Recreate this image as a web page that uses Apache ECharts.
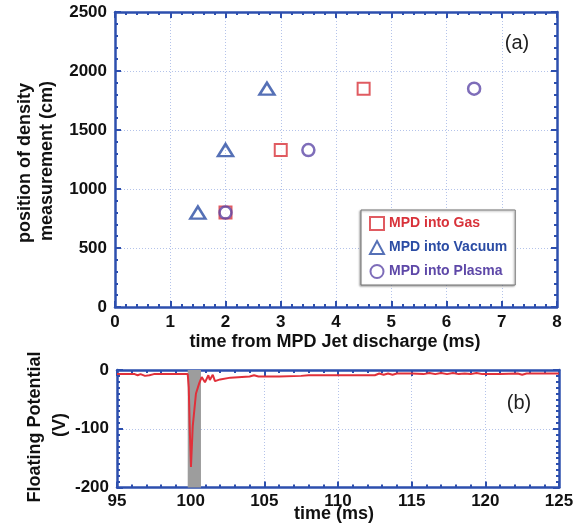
<!DOCTYPE html>
<html><head><meta charset="utf-8">
<script src="https://cdn.jsdelivr.net/npm/echarts@6/dist/echarts.min.js"></script>
<style>html,body{margin:0;padding:0;background:#fff}#c{width:582px;height:524px}</style>
</head><body><div id="c"></div>
<script>
// ---- data (panel a) ----
const gasTime = [2, 3, 4.5];
const gasPos = [800, 1330, 1850];
const vacTime = [1.5, 2, 2.75];
const vacPos = [800, 1330, 1850];
const plasmaTime = [2, 3.5, 6.5];
const plasmaPos = [800, 1330, 1850];
const seriesNames = ['MPD into Gas', 'MPD into Vacuum', 'MPD into Plasma'];
// ---- data (panel b) ----
const traceTime = [95, 96.2, 96.4, 96.6, 96.9, 97.2, 97.5, 99.8, 99.87, 99.95, 100.02, 100.14, 100.36, 100.59, 100.75, 100.97, 101.2, 101.3, 101.5, 101.65, 102.0, 102.7, 104, 104.3, 104.6, 106, 107.5, 108, 110, 112.5, 112.8, 113.1, 113.4, 113.7, 114, 115, 115.8, 116.2, 116.6, 117, 117.4, 117.8, 118.2, 118.6, 119, 119.4, 119.8, 121, 122.2, 122.5, 122.8, 125];
const tracePot = [-7, -7, -9, -7, -10, -9, -7, -7, -30, -110, -165, -96, -40, -22, -12, -21, -9, -17, -8, -19, -16, -13, -11, -9, -11, -11, -10, -9, -9, -9, -6, -8, -6, -8, -6, -6, -7, -5, -7, -5, -7, -5, -7, -6, -7, -5, -7, -7, -6, -8, -6, -6];
const bandRange = [99.8, 100.7];

const C_RED = '#d8323a', C_BLUE = '#2b4ca4', C_PURPLE = '#5e48a8';
const AX = '#2d4fae', GRIDC = '#b4c3ea';
const FONT = '"Liberation Sans", Arial, sans-serif';

function zip(a, b) { return a.map((v, i) => [v, b[i]]); }
const plain = v => String(v);

function mainAxis(o) {
  return Object.assign({
    type: 'value',
    axisLine: { show: true, onZero: false, lineStyle: { color: AX, width: 2.5 } },
    axisTick: { show: true, inside: true, length: 6, lineStyle: { color: AX, width: 2 } },
    minorTick: { show: true, splitNumber: 5, length: 3, lineStyle: { color: AX, width: 2 } },
    splitLine: { show: true, lineStyle: { color: GRIDC, type: [1, 2], width: 1 } }
  }, o);
}
function sideAxis(o) {
  return Object.assign({
    type: 'value',
    axisLine: { show: true, onZero: false, lineStyle: { color: AX, width: 2.5 } },
    axisTick: { show: true, inside: true, length: 6, lineStyle: { color: AX, width: 2 } },
    minorTick: { show: true, splitNumber: 5, length: 3, lineStyle: { color: AX, width: 2 } },
    axisLabel: { show: false },
    splitLine: { show: false }
  }, o);
}
function lbl(margin) {
  return { color: '#111', fontFamily: FONT, fontWeight: 'bold', fontSize: 17, margin: margin, formatter: plain };
}

const chart = echarts.init(document.getElementById('c'), null, { renderer: 'canvas' });
chart.setOption({
  animation: false,
  backgroundColor: '#fff',
  textStyle: { fontFamily: FONT },
  grid: [
    { left: 115, top: 12, width: 442, height: 295 },
    { left: 117, top: 370, width: 442, height: 117.5 }
  ],
  xAxis: [
    mainAxis({ gridIndex: 0, min: 0, max: 8, interval: 1, position: 'bottom', axisLabel: lbl(7) }),
    sideAxis({ gridIndex: 0, min: 0, max: 8, interval: 1, position: 'top' }),
    mainAxis({ gridIndex: 1, min: 95, max: 125, interval: 5, position: 'bottom', axisLabel: lbl(5) }),
    sideAxis({ gridIndex: 1, min: 95, max: 125, interval: 5, position: 'top' })
  ],
  yAxis: [
    mainAxis({ gridIndex: 0, min: 0, max: 2500, interval: 500, position: 'left', axisLabel: lbl(8) }),
    sideAxis({ gridIndex: 0, min: 0, max: 2500, interval: 500, position: 'right' }),
    mainAxis({ gridIndex: 1, min: -200, max: 0, interval: 100, position: 'left', minorTick: { show: true, splitNumber: 10, length: 3, lineStyle: { color: AX, width: 2 } }, axisLabel: lbl(8) }),
    sideAxis({ gridIndex: 1, min: -200, max: 0, interval: 100, position: 'right', minorTick: { show: true, splitNumber: 10, length: 3, lineStyle: { color: AX, width: 2 } } })
  ],
  legend: {
    orient: 'vertical', left: 361, top: 210,
    padding: [6, 8, 6, 8], itemGap: 9, itemWidth: 14, itemHeight: 13,
    backgroundColor: '#fff', borderColor: '#777', borderWidth: 1,
    shadowColor: 'rgba(0,0,0,0.35)', shadowBlur: 2, shadowOffsetX: -1, shadowOffsetY: 1,
    textStyle: { fontFamily: FONT, fontWeight: 'bold', fontSize: 14 },
    data: [
      { name: seriesNames[0], textStyle: { color: C_RED } },
      { name: seriesNames[1], textStyle: { color: C_BLUE } },
      { name: seriesNames[2], textStyle: { color: C_PURPLE } }
    ]
  },
  series: [
    { name: seriesNames[0], type: 'scatter', xAxisIndex: 0, yAxisIndex: 0, symbol: 'rect', symbolSize: 12,
      itemStyle: { color: '#fff', borderColor: C_RED, borderWidth: 2 }, data: zip(gasTime, gasPos), z: 3 },
    { name: seriesNames[1], type: 'scatter', xAxisIndex: 0, yAxisIndex: 0, symbol: 'triangle', symbolSize: [15, 12],
      itemStyle: { color: 'rgba(255,255,255,0)', borderColor: C_BLUE, borderWidth: 2.5 }, data: zip(vacTime, vacPos), z: 4 },
    { name: seriesNames[2], type: 'scatter', xAxisIndex: 0, yAxisIndex: 0, symbol: 'circle', symbolSize: 12,
      itemStyle: { color: 'rgba(255,255,255,0)', borderColor: C_PURPLE, borderWidth: 2.5 }, data: zip(plasmaTime, plasmaPos), z: 5 },
    { name: 'band', type: 'line', xAxisIndex: 2, yAxisIndex: 2, data: [], z: 1, silent: true,
      markArea: { silent: true, itemStyle: { color: '#9d9d9d', opacity: 1 }, data: [[{ xAxis: bandRange[0] }, { xAxis: bandRange[1] }]] } },
    { name: 'trace', type: 'line', xAxisIndex: 2, yAxisIndex: 2, data: zip(traceTime, tracePot), z: 3,
      showSymbol: false, symbol: 'none', lineStyle: { color: '#e0303a', width: 2 } }
  ],
  graphic: [
    { type: 'text', x: 25, y: 163, rotation: Math.PI / 2, style: { text: 'position of density', fontFamily: FONT, fontWeight: 'bold', fontSize: 18, fill: '#111', textAlign: 'center', textVerticalAlign: 'middle' } },
    { type: 'text', x: 47, y: 161, rotation: Math.PI / 2, style: { text: 'measurement (cm)', fontFamily: FONT, fontWeight: 'bold', fontSize: 18, fill: '#111', textAlign: 'center', textVerticalAlign: 'middle' } },
    { type: 'text', x: 335, y: 342, style: { text: 'time from MPD Jet discharge (ms)', fontFamily: FONT, fontWeight: 'bold', fontSize: 18, fill: '#111', textAlign: 'center', textVerticalAlign: 'middle' } },
    { type: 'text', x: 517, y: 43, style: { text: '(a)', fontFamily: FONT, fontSize: 20, fill: '#222', textAlign: 'center', textVerticalAlign: 'middle' } },
    { type: 'text', x: 35, y: 427, rotation: Math.PI / 2, style: { text: 'Floating Potential', fontFamily: FONT, fontWeight: 'bold', fontSize: 18, fill: '#111', textAlign: 'center', textVerticalAlign: 'middle' } },
    { type: 'text', x: 60, y: 425, rotation: Math.PI / 2, style: { text: '(V)', fontFamily: FONT, fontWeight: 'bold', fontSize: 18, fill: '#111', textAlign: 'center', textVerticalAlign: 'middle' } },
    { type: 'text', x: 334, y: 514, style: { text: 'time (ms)', fontFamily: FONT, fontWeight: 'bold', fontSize: 18, fill: '#111', textAlign: 'center', textVerticalAlign: 'middle' } },
    { type: 'text', x: 519, y: 403, style: { text: '(b)', fontFamily: FONT, fontSize: 20, fill: '#222', textAlign: 'center', textVerticalAlign: 'middle' } }
  ]
});
</script>
</body></html>
